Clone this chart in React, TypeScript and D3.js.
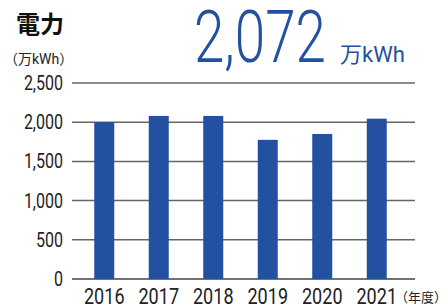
import React from 'react';
import * as d3 from 'd3';

const years = ['2016', '2017', '2018', '2019', '2020', '2021'];
const values = [2000, 2080, 2080, 1775, 1850, 2045];
const yTicks = [0, 500, 1000, 1500, 2000, 2500];

const BLUE = '#2350a0';
const TEXT = '#222';
const FONT = 'Roboto, "Noto Sans CJK JP", sans-serif';

export default function App() {
  const width = 448;
  const height = 307;

  const x = d3.scaleBand().domain(years).range([77, 404]).padding(0);
  const barW = x.bandwidth() * 0.367;
  const y = d3.scaleLinear().domain([0, 2500]).range([279, 83]);

  return (
    <svg width={width} height={height} style={{ position: 'absolute', left: 0, top: 0, background: '#fff' }}>
      {/* title */}
      <text x={16} y={33} fontFamily={FONT} fontWeight={700} fontSize={24} fill="#111">電力</text>
      <text x={4} y={64} fontFamily={FONT} fontSize={14} fill={TEXT}>（万kWh）</text>

      {/* headline value */}
      <text transform="translate(194,62) scale(0.76,1)" fontFamily={FONT} fontWeight={300} fontSize={72} fill={BLUE}>2,072</text>
      <text x={340} y={62} fontFamily={FONT} fontSize={22} fill={BLUE}>万kWh</text>

      {/* grid + y ticks */}
      {yTicks.map(t => (
        <g key={t}>
          <line x1={72} x2={415} y1={y(t)} y2={y(t)} stroke={t === 0 ? '#444' : '#666'} strokeWidth={1.5} />
          <text
            transform={`translate(63,${y(t) + 7}) scale(0.8,1)`}
            textAnchor="end"
            fontFamily={FONT}
            fontSize={20}
            fill={TEXT}
          >
            {d3.format(',')(t)}
          </text>
        </g>
      ))}

      {/* bars */}
      {years.map((yr, i) => (
        <rect
          key={yr}
          x={(x(yr) as number) + x.bandwidth() / 2 - barW / 2}
          y={y(values[i])}
          width={barW}
          height={y(0) - y(values[i])}
          fill={BLUE}
        />
      ))}

      {/* x labels */}
      {years.map(yr => (
        <text
          key={yr}
          transform={`translate(${(x(yr) as number) + x.bandwidth() / 2},304) scale(0.82,1)`}
          textAnchor="middle"
          fontFamily={FONT}
          fontSize={22}
          fill={TEXT}
        >
          {yr}
        </text>
      ))}
      <text x={395} y={302} fontFamily={FONT} fontSize={13} fill={TEXT}>（年度）</text>
    </svg>
  );
}
